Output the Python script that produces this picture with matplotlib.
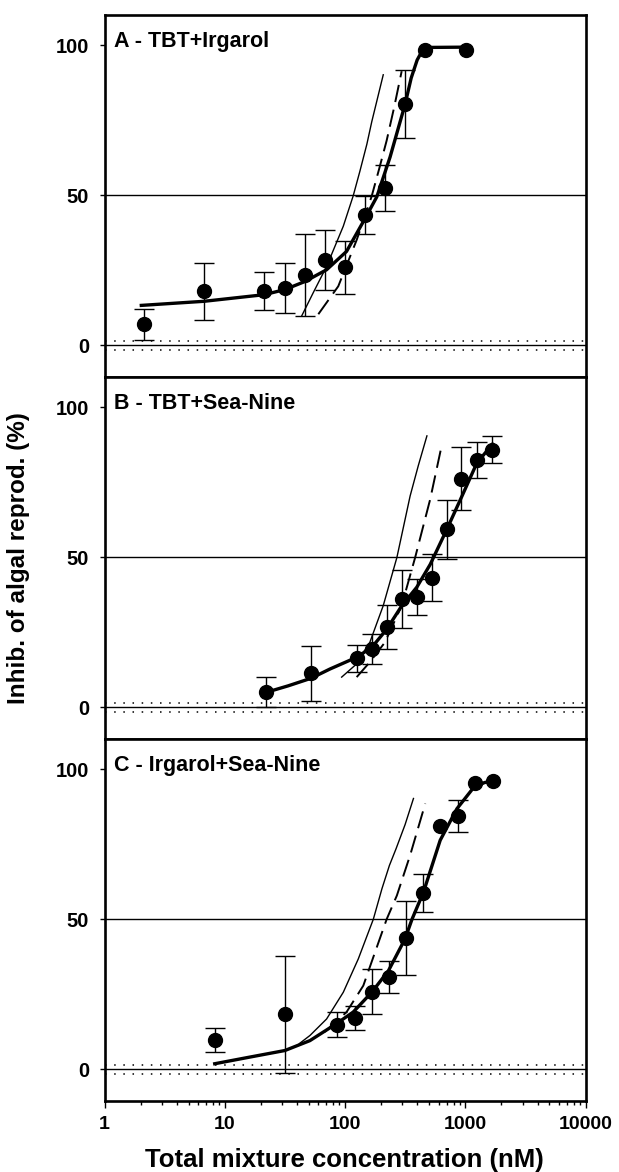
import numpy as np
import matplotlib
matplotlib.use("Agg")
import matplotlib.pyplot as plt
from matplotlib.ticker import FixedLocator, FixedFormatter, NullFormatter

plt.rcParams['font.family'] = ['Liberation Sans', 'DejaVu Sans']
plt.rcParams['font.weight'] = 'bold'

# ---------------- data ----------------
titles = ["A - TBT+Irgarol", "B - TBT+Sea-Nine", "C - Irgarol+Sea-Nine"]

# Panel A
a_conc = [2.13, 6.7, 21.3, 31.6, 46.4, 68.1, 100, 147, 215, 316, 464, 1010]
a_inhib = [7.0, 18.0, 18.0, 19.2, 23.5, 28.5, 26.0, 43.4, 52.5, 80.3, 98.5, 98.3]
a_err = [5.3, 9.6, 6.3, 8.3, 13.7, 10.0, 8.8, 6.3, 7.7, 11.3, 0, 0]
a_fit_x = [1.96, 6.73, 21.3, 31.6, 46.5, 70.3, 103, 147, 184, 237, 316, 355, 398, 437, 479, 1000]
a_fit_y = [13.3, 14.7, 16.9, 18.6, 21.3, 25.2, 31.3, 42.3, 49.5, 62.7, 80.3, 89.0, 95.0, 98.0, 99.2, 99.3]
a_ca_x = [43.6, 54.5, 70.3, 96.8, 117, 133, 152, 167, 208]
a_ca_y = [9.8, 17.6, 26.3, 39.7, 49.8, 58.0, 67.0, 74.5, 90.1]
a_ia_x = [60.0, 87.9, 125, 145, 167, 193, 222, 257, 296]
a_ia_y = [10.4, 19.7, 35.1, 42.5, 49.8, 59.0, 68.2, 79.5, 91.3]

# Panel B
b_conc = [22.0, 52.1, 125, 167, 222, 297, 396, 527, 703, 926, 1250, 1667]
b_inhib = [5.0, 11.4, 16.3, 19.6, 26.8, 36.0, 36.9, 43.2, 59.3, 76.2, 82.5, 85.8]
b_err = [5.0, 9.1, 4.6, 5.0, 7.4, 9.7, 6.0, 7.8, 9.8, 10.5, 6.0, 4.4]
b_fit_x = [22.0, 33.7, 52.1, 75.0, 125, 167, 222, 296, 395, 511, 703, 938, 1250, 1722]
b_fit_y = [5.0, 7.2, 9.7, 12.8, 16.7, 20.0, 26.0, 33.8, 40.0, 47.6, 59.3, 70.3, 81.4, 88.1]
b_ca_x = [93.8, 121, 161, 208, 270, 348, 407, 480]
b_ca_y = [10.1, 14.0, 21.7, 33.9, 49.9, 70.4, 80.5, 90.4]
b_ia_x = [125, 161, 215, 296, 383, 511, 640]
b_ia_y = [10.1, 15.1, 21.7, 33.9, 49.9, 69.3, 87.6]

# Panel C
c_conc = [8.25, 31.6, 85.3, 120, 169, 234, 322, 444, 619, 869, 1212, 1701]
c_inhib = [9.8, 18.3, 14.9, 17.1, 25.9, 30.7, 43.8, 58.7, 80.9, 84.4, 95.5, 95.9]
c_err = [3.9, 19.5, 4.2, 4.0, 7.5, 5.3, 12.3, 6.4, 0, 5.3, 0, 0]
c_fit_x = [8.0, 15.6, 31.6, 51.1, 85.3, 117, 167, 230, 316, 360, 450, 619, 853, 1172, 1445, 1698]
c_fit_y = [1.8, 4.0, 6.3, 9.6, 15.3, 19.1, 25.7, 32.9, 43.5, 49.9, 59.1, 76.3, 86.8, 93.8, 95.5, 96.0]
c_ca_x = [41.7, 51.1, 70.3, 96.8, 129, 172, 203, 234, 266, 316, 371]
c_ca_y = [8.6, 11.3, 16.8, 25.7, 36.8, 50.0, 60.2, 67.9, 73.5, 81.5, 90.2]
c_ia_x = [68, 103, 142, 178, 222, 270, 348, 465]
c_ia_y = [12.5, 19.1, 27.9, 39.1, 50.0, 57.9, 71.3, 88.5]

control_band = [-1.5, 1.5]
y_ticks = [0, 50, 100]
x_ticks = [1, 10, 100, 1000, 10000]
x_tick_labels = ["1", "10", "100", "1000", "10000"]

panels = [
    (a_conc, a_inhib, a_err, a_fit_x, a_fit_y, a_ca_x, a_ca_y, a_ia_x, a_ia_y),
    (b_conc, b_inhib, b_err, b_fit_x, b_fit_y, b_ca_x, b_ca_y, b_ia_x, b_ia_y),
    (c_conc, c_inhib, c_err, c_fit_x, c_fit_y, c_ca_x, c_ca_y, c_ia_x, c_ia_y),
]

# ---------------- figure ----------------
W, H = 619, 1172
fig = plt.figure(figsize=(W / 100, H / 100), dpi=100)
left = 104.5 / W
width = 481 / W
bounds = [(15, 377), (377, 739), (739, 1101)]

for i, (pdata, (top_px, bot_px)) in enumerate(zip(panels, bounds)):
    conc, inhib, err, fx, fy, cax, cay, iax, iay = pdata
    ax = fig.add_axes([left, 1 - bot_px / H, width, (bot_px - top_px) / H])
    ax.set_xscale('log')
    ax.set_xlim(1, 10000)
    ax.set_ylim(-10.5, 110)

    ax.axhline(50, color='k', lw=1.0, zorder=1)
    ax.axhline(0, color='k', lw=1.0, zorder=1)
    for yb in control_band:
        ax.axhline(yb, color='k', lw=1.1, ls=(0, (1, 5)), zorder=1)

    ax.plot(cax, cay, color='k', lw=1.0, zorder=2)
    ax.plot(iax, iay, color='k', lw=1.4, ls=(0, (9, 4)), zorder=2)
    ax.plot(fx, fy, color='k', lw=2.4, zorder=3, solid_capstyle='butt')

    conc_a = np.array(conc)
    inhib_a = np.array(inhib)
    err_a = np.array(err)
    m = err_a > 0
    ax.errorbar(conc_a[m], inhib_a[m], yerr=err_a[m], fmt='none', ecolor='k',
                elinewidth=1.0, capsize=7.5, capthick=1.0, zorder=4)
    ax.plot(conc_a, inhib_a, 'o', color='k', ms=10, zorder=5)

    for sp in ax.spines.values():
        sp.set_linewidth(1.9)

    ax.yaxis.set_major_locator(FixedLocator(y_ticks))
    ax.set_yticklabels([str(t) for t in y_ticks], fontsize=14.5, fontweight='bold')
    ax.tick_params(axis='y', which='both', direction='out', length=3.6, width=1.0,
                   pad=7.5, right=False)

    ax.text(0.02, 0.957, titles[i], transform=ax.transAxes, ha='left', va='top',
            fontsize=15.5, fontweight='bold')

    if i < 2:
        ax.tick_params(axis='x', which='both', bottom=False, top=False,
                       labelbottom=False)
    else:
        ax.xaxis.set_major_locator(FixedLocator(x_ticks))
        ax.xaxis.set_major_formatter(FixedFormatter(x_tick_labels))
        minors = [m_ * 10.0 ** d for d in range(0, 4) for m_ in range(2, 10)]
        ax.xaxis.set_minor_locator(FixedLocator(minors))
        ax.xaxis.set_minor_formatter(NullFormatter())
        ax.tick_params(axis='x', which='major', direction='out', length=4.7,
                       width=1.0, pad=6, labelsize=14, top=False)
        ax.tick_params(axis='x', which='minor', direction='out', length=3.0,
                       width=1.0, top=False)
        for lab in ax.get_xticklabels():
            lab.set_fontweight('bold')

fig.text(19 / W, 1 - 558 / H, "Inhib. of algal reprod. (%)", rotation=90,
         ha='center', va='center', fontsize=17.5, fontweight='bold')
fig.text(344 / W, 1 - 1160 / H, "Total mixture concentration (nM)",
         ha='center', va='center', fontsize=18.5, fontweight='bold')

fig.savefig("out.png", dpi=100)
